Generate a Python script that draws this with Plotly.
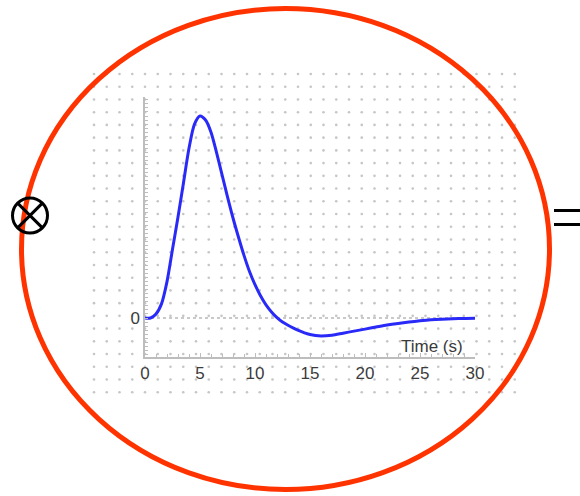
import numpy as np
import plotly.graph_objects as go

# ---- data ----
time_s = [0, 0.5, 1, 1.5, 2, 2.5, 3, 3.5, 4, 4.5, 5, 5.5, 6, 6.5, 7, 7.5, 8, 8.5,
          9, 9.5, 10, 10.5, 11, 11.5, 12, 12.5, 13, 13.5, 14, 14.5, 15, 15.5,
          16, 17, 18, 19, 20, 21, 22, 23, 24, 25, 26, 27, 28, 29, 30]
response = [0.0, 0.0, 0.02, 0.07, 0.18, 0.34, 0.50, 0.67, 0.84, 0.96, 1.0, 0.98,
            0.92, 0.82, 0.71, 0.60, 0.495, 0.40, 0.31, 0.23, 0.165, 0.11, 0.065,
            0.03, 0.002, -0.02, -0.036, -0.05, -0.063, -0.074, -0.082, -0.087,
            -0.089, -0.085, -0.075, -0.065, -0.055, -0.045, -0.035, -0.027,
            -0.02, -0.014, -0.009, -0.006, -0.004, -0.002, -0.001]
x_ticks = [0, 5, 10, 15, 20, 25, 30]
x_tick_labels = ["0", "5", "10", "15", "20", "25", "30"]
y_ticks = [0]
y_tick_labels = ["0"]
x_title = "Time (s)"

W, H = 580, 496
FONT = "Liberation Sans, Arial, sans-serif"

# background dot grid (decoration, pixel coordinates)
gx = 94 + 12.75 * np.arange(0, 34)
gy = 74 + 12.73 * np.arange(0, 26)
GX, GY = np.meshgrid(gx, gy)

fig = go.Figure()
fig.add_trace(go.Scatter(x=GX.ravel(), y=GY.ravel(), mode="markers",
                         marker=dict(size=2.6, color="#c6c6c6"),
                         hoverinfo="skip", showlegend=False,
                         xaxis="x", yaxis="y"))
fig.add_trace(go.Scatter(x=time_s, y=response, mode="lines",
                         line=dict(color="#2a2af8", width=3, shape="spline",
                                   smoothing=0.8),
                         hoverinfo="skip", showlegend=False,
                         xaxis="x2", yaxis="y2"))

# data axes placement (pixels)
px0, px1 = 145, 475
py_top, py_bot = 97, 357
py_zero, py_peak = 318, 116
scale = (py_zero - py_peak)
y_hi = (py_zero - py_top) / scale
y_lo = (py_zero - py_bot) / scale

axis_col = "#bdbdbd"
tick_font = dict(family=FONT, size=17, color="#3c3c3c")
fig.update_layout(
    template="none",
    width=W, height=H, autosize=False, margin=dict(l=0, r=0, t=0, b=0, pad=0),
    paper_bgcolor="white", plot_bgcolor="rgba(0,0,0,0)",
    showlegend=False,
    xaxis=dict(domain=[0, 1], range=[0, W], visible=False, fixedrange=True,
               automargin=False),
    yaxis=dict(domain=[0, 1], range=[H, 0], visible=False, fixedrange=True,
               automargin=False),
    xaxis2=dict(domain=[px0 / W, px1 / W], range=[0, 30], anchor="y2",
                automargin=False, showgrid=False, zeroline=False,
                showline=True, linecolor=axis_col, linewidth=1.5,
                tickmode="array", tickvals=x_ticks, ticktext=x_tick_labels,
                ticks="inside", ticklen=4, tickcolor=axis_col, tickwidth=1,
                minor=dict(ticks="inside", dtick=1, ticklen=3,
                           tickcolor=axis_col, tickwidth=1),
                tickfont=tick_font),
    yaxis2=dict(domain=[1 - py_bot / H, 1 - py_top / H], range=[y_lo, y_hi],
                anchor="x2", automargin=False, showgrid=False, zeroline=False,
                showline=True, linecolor=axis_col, linewidth=1.5,
                tickmode="array", tickvals=y_ticks, ticktext=y_tick_labels,
                ticks="",
                minor=dict(ticks="inside", dtick=0.02, ticklen=3,
                           tickcolor=axis_col, tickwidth=1),
                tickfont=tick_font),
)

shapes = []
# dotted zero line
shapes.append(dict(type="line", xref="x2", yref="y2", x0=0, x1=30, y0=0, y1=0,
                   line=dict(color="#b8b8b8", width=1.5, dash="dot"),
                   layer="below"))
# red ellipse
shapes.append(dict(type="circle", xref="x", yref="y", x0=21.5, x1=549.5,
                   y0=8.5, y1=489.5, line=dict(color="#ff3300", width=5)))
# circled times operator
cx, cy, r = 30, 215.5, 17.5
shapes.append(dict(type="circle", xref="x", yref="y", x0=cx - r, x1=cx + r,
                   y0=cy - r, y1=cy + r, line=dict(color="black", width=3)))
d = r * 0.7071
shapes.append(dict(type="line", xref="x", yref="y", x0=cx - d, y0=cy - d,
                   x1=cx + d, y1=cy + d, line=dict(color="black", width=3)))
shapes.append(dict(type="line", xref="x", yref="y", x0=cx + d, y0=cy - d,
                   x1=cx - d, y1=cy + d, line=dict(color="black", width=3)))
# equals sign
for yy in (210.5, 224.5):
    shapes.append(dict(type="line", xref="x", yref="y", x0=554, x1=580,
                       y0=yy, y1=yy, line=dict(color="black", width=3)))
fig.update_layout(shapes=shapes)

fig.add_annotation(x=432, y=346, xref="x", yref="y", text=x_title,
                   showarrow=False, font=dict(family=FONT, size=17,
                                              color="#3a3a3a"))

fig.write_html("out.html", config={"responsive": False})
